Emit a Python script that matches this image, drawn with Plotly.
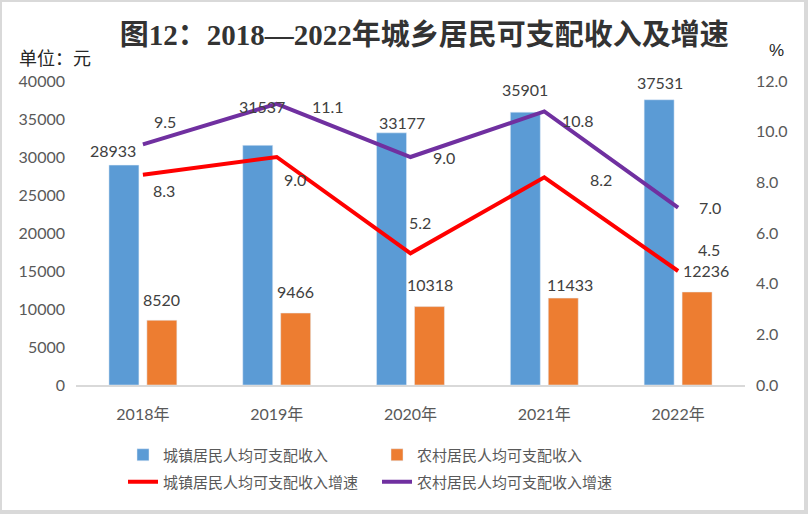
import plotly.graph_objects as go

years = ['2018年', '2019年', '2020年', '2021年', '2022年']
urban_income = [28933, 31537, 33177, 35901, 37531]
rural_income = [8520, 9466, 10318, 11433, 12236]
urban_growth = [8.3, 9.0, 5.2, 8.2, 4.5]
rural_growth = [9.5, 11.1, 9.0, 10.8, 7.0]

# label nudges in px (xshift, yshift), labels were hand-placed in the original
urban_lbl_off = [(-30, 15), (-15, 39), (-9, 10), (-19, 23), (-18, 17)]
rural_lbl_off = [(19, 21), (19, 22), (19, 22), (26, 14), (28, 22)]
ugr_lbl_off = [(21, -16), (18, -22), (9, 31), (57, -2), (31, 22)]
rgr_lbl_off = [(22, 23), (51, -3), (33, 0), (34, -9), (32, 0)]

W, H = 808, 514
L, R, T, B = 76, 63, 81, 129
pw, ph = W - L - R, H - T - B

num_font = dict(family='Lato, Liberation Sans, sans-serif', size=16, color='#404040')
cjk = 'Noto Sans CJK SC'

fig = go.Figure()
fig.add_trace(go.Bar(x=years, y=urban_income, name='城镇居民人均可支配收入',
                     marker_color='#5B9BD5', legend='legend'))
fig.add_trace(go.Bar(x=years, y=rural_income, name='农村居民人均可支配收入',
                     marker_color='#ED7D31', legend='legend'))
fig.add_trace(go.Scatter(x=years, y=urban_growth, name='城镇居民人均可支配收入增速',
                         mode='lines', line=dict(color='#FF0000', width=4),
                         yaxis='y2', legend='legend2'))
fig.add_trace(go.Scatter(x=years, y=rural_growth, name='农村居民人均可支配收入增速',
                         mode='lines', line=dict(color='#7030A0', width=4),
                         yaxis='y2', legend='legend2'))

anns = []
for i in range(len(years)):
    anns.append(dict(x=years[i], y=urban_income[i], text=str(urban_income[i]),
                     xshift=urban_lbl_off[i][0], yshift=urban_lbl_off[i][1]))
    anns.append(dict(x=years[i], y=rural_income[i], text=str(rural_income[i]),
                     xshift=rural_lbl_off[i][0], yshift=rural_lbl_off[i][1]))
    anns.append(dict(x=years[i], y=urban_growth[i], yref='y2', text='%.1f' % urban_growth[i],
                     xshift=ugr_lbl_off[i][0], yshift=ugr_lbl_off[i][1]))
    anns.append(dict(x=years[i], y=rural_growth[i], yref='y2', text='%.1f' % rural_growth[i],
                     xshift=rgr_lbl_off[i][0], yshift=rgr_lbl_off[i][1]))
for a in anns:
    a.update(showarrow=False, font=num_font)

anns.append(dict(xref='paper', yref='paper', x=(17 - L) / pw, y=(ph + T - 57) / ph,
                 xanchor='left', yanchor='middle', text='单位：元', showarrow=False,
                 font=dict(family=cjk, size=18, color='#262626')))
anns.append(dict(xref='paper', yref='paper', x=(776 - L) / pw, y=(ph + T - 50) / ph,
                 xanchor='center', yanchor='middle', text='%', showarrow=False,
                 font=dict(family='Liberation Sans', size=17, color='#262626')))

fig.update_layout(
    width=W, height=H,
    margin=dict(l=L, r=R, t=T, b=B),
    paper_bgcolor='white', plot_bgcolor='white',
    title=dict(text='<b>图12：2018—2022年城乡居民可支配收入及增速</b>',
               x=0.525, xanchor='center', y=1 - 35 / H, yanchor='middle',
               font=dict(family='Liberation Serif, ' + cjk, size=29, color='#333333')),
    barmode='group', bargap=0.433, bargroupgap=0.21,
    xaxis=dict(showline=True, linecolor='#d9d9d9', linewidth=1.5, showgrid=False,
               ticks='', ticklabelstandoff=14,
               tickfont=dict(family='Lato, ' + cjk, size=16, color='#595959')),
    yaxis=dict(range=[0, 40000], dtick=5000, tickformat='d', showgrid=False, zeroline=False,
               ticks='', ticklabelstandoff=10,
               tickfont=dict(family='Lato, Liberation Sans', size=16, color='#595959')),
    yaxis2=dict(range=[0, 12], dtick=2, tickformat='.1f', overlaying='y', side='right',
                showgrid=False, zeroline=False, ticks='', ticklabelstandoff=10,
                tickfont=dict(family='Lato, Liberation Sans', size=16, color='#595959')),
    legend=dict(orientation='h', x=(123 - L) / pw, xanchor='left',
                y=(385 - 455) / ph, yanchor='middle', entrywidth=209,
                font=dict(family=cjk, size=15, color='#595959')),
    legend2=dict(orientation='h', x=(123 - L) / pw, xanchor='left',
                 y=(385 - 482) / ph, yanchor='middle', entrywidth=209,
                 font=dict(family=cjk, size=15, color='#595959')),
    annotations=anns,
    shapes=[dict(type='rect', xref='paper', yref='paper',
                 x0=-L / pw, x1=(W - 2 - L) / pw,
                 y0=(T + ph - (H - 2)) / ph, y1=(T + ph) / ph,
                 line=dict(color='#d9d9d9', width=4))],
)

fig.write_html('out.html', config={'displayModeBar': False},
               post_script="document.body.style.margin='0';")
